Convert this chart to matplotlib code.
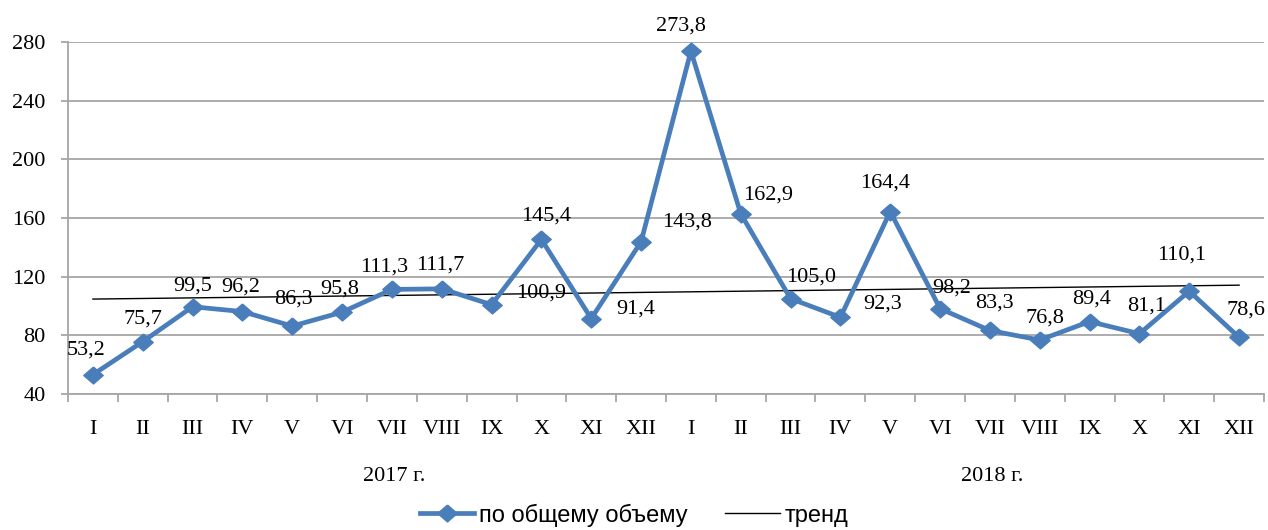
import numpy as np
import matplotlib
matplotlib.use("Agg")
import matplotlib.pyplot as plt
import matplotlib.transforms as mtransforms

months = ["I", "II", "III", "IV", "V", "VI", "VII", "VIII", "IX", "X", "XI", "XII"]
categories = months + months
years = ["2017 г.", "2018 г."]
values = [53.2, 75.7, 99.5, 96.2, 86.3, 95.8, 111.3, 111.7, 100.9, 145.4, 91.4, 143.8,
          273.8, 162.9, 105.0, 92.3, 164.4, 98.2, 83.3, 76.8, 89.4, 81.1, 110.1, 78.6]
value_labels = [f"{v:.1f}".replace(".", ",") for v in values]
series_name = "по общему объему"
trend_name = "тренд"

# label offsets in pixels (dx, dy)
label_offsets = [(-7, 25), (0, 23), (0, 21), (-2, 25), (1, 27), (-2, 23), (-8, 22), (-2, 24),
                 (50, 12), (5, 23), (44, 10), (46, 20),
                 (-10, 25), (27, 19), (21, 22), (42, 13), (-5, 28), (12, 21), (5, 27),
                 (5, 22), (2, 22), (7, 28), (-8, 36), (7, 27)]

plt.rcParams['font.family'] = ['Liberation Serif', 'DejaVu Serif']
FS = 16
blue = "#4A7EBB"
grid_c = "#A6A6A6"

fig = plt.figure(figsize=(12.68, 5.30), dpi=100)
ax = fig.add_axes([68/1268, 1-394/530, (1264-68)/1268, (394-42)/530])

# slightly wide diamond marker
diamond = [(0, 1), (1.15, 0), (0, -1), (-1.15, 0), (0, 1)]
x = np.arange(len(values))
ax.plot(x, values, color=blue, lw=3.4, marker=diamond, ms=14, mec=blue, mfc=blue,
        label=series_name, zorder=3, solid_joinstyle="miter")
coef = np.polyfit(x, values, 1)
ax.plot(x, np.polyval(coef, x), color="black", lw=1.0, label=trend_name, zorder=2)

for xi, v, lab, (dx, dy) in zip(x, values, value_labels, label_offsets):
    ax.annotate(lab, (xi, v), xytext=(dx, dy), textcoords="offset pixels",
                ha="center", va="center", fontsize=FS, zorder=4)

ax.set_xlim(-0.5, len(values) - 0.5)
ax.set_ylim(40, 280)
ax.set_yticks(np.arange(40, 281, 40))
ax.yaxis.grid(True, color=grid_c, lw=1.3)
ax.set_axisbelow(True)
ax.set_xticks(x)
ax.set_xticklabels(categories, fontsize=FS)
ax.set_xticks(np.arange(-0.5, len(values), 1), minor=True)
ax.tick_params(axis="x", which="major", length=0, pad=19)
ax.tick_params(axis="x", which="minor", length=6, color=grid_c, width=1.3)
ax.tick_params(axis="y", length=5, color=grid_c, width=1.3, labelsize=FS, pad=11)
for s in ["top", "right"]:
    ax.spines[s].set_visible(False)
for s in ["left", "bottom"]:
    ax.spines[s].set_color(grid_c)
    ax.spines[s].set_linewidth(1.3)

trans = mtransforms.blended_transform_factory(ax.transData, ax.transAxes)
ax.text(6.05, -0.235, years[0], transform=trans, ha="center", va="center", fontsize=FS)
ax.text(18.05, -0.235, years[1], transform=trans, ha="center", va="center", fontsize=FS)

leg = fig.legend(loc="center", bbox_to_anchor=(0.5, 1-515/530), ncol=2, frameon=False,
                 prop={"family": ["Liberation Sans Narrow", "Liberation Sans"], "size": 17},
                 handlelength=2.3, handletextpad=0.2, columnspacing=1.6)

fig.savefig("out.png", dpi=100)
